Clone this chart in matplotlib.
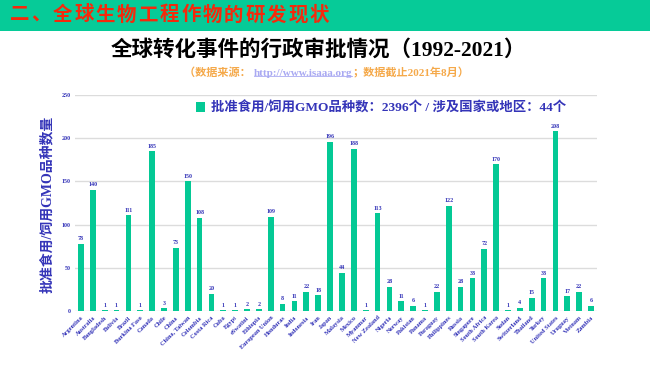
import matplotlib

matplotlib.use("Agg")
import matplotlib.pyplot as plt
from matplotlib.lines import Line2D
from matplotlib.patches import Rectangle

plt.rcParams["font.family"] = ["Liberation Serif", "Noto Sans CJK SC"]

COUNTRIES = [
    "Argentina", "Australia", "Bangladesh", "Bolivia", "Brazil", "Burkina Faso",
    "Canada", "Chile", "China", "China, Taiwan", "Colombia", "Costa Rica",
    "Cuba", "Egypt", "eSwatini", "Ethiopia", "European Union", "Honduras",
    "India", "Indonesia", "Iran", "Japan", "Malaysia", "Mexico", "Myanmar",
    "New Zealand", "Nigeria", "Norway", "Pakistan", "Panama", "Paraguay",
    "Philippines", "Russia", "Singapore", "South Africa", "South Korea",
    "Sudan", "Switzerland", "Thailand", "Turkey", "United States", "Uruguay",
    "Vietnam", "Zambia",
]
APPROVALS = [
    78, 140, 1, 1, 111, 1, 185, 3, 73, 150, 108, 20, 1, 1, 2, 2, 109, 8,
    11, 22, 18, 196, 44, 188, 1, 113, 28, 11, 6, 1, 22, 122, 28, 38, 72,
    170, 1, 4, 15, 38, 208, 17, 22, 6,
]
Y_TICKS = [0, 50, 100, 150, 200, 250]

HEADER = "二、全球生物工程作物的研发现状"
TITLE = "全球转化事件的行政审批情况（1992-2021）"
LEGEND_LABEL = "批准食用/饲用GMO品种数：2396个 / 涉及国家或地区：44个"
Y_LABEL = "批准食用/饲用GMO品种数量"
SOURCE_PARTS = [
    ("（数据来源： ", "#F5A94A", False),
    ("http://www.isaaa.org", "#A9A9F2", True),
    ("；数据截止2021年8月）", "#F5A94A", False),
]

BAR_COLOR = "#04C995"
BLUE = "#3434B8"

fig = plt.figure(figsize=(6.5, 3.65), dpi=100)

# green header band
fig.patches.append(
    Rectangle((0, 1 - 31 / 365), 1, 31 / 365, transform=fig.transFigure,
              facecolor="#06CB98", edgecolor="none")
)
# header chars spaced out a bit like the slide
hx = 10 / 650
for ch in HEADER:
    fig.text(hx, 1 - 15 / 365, ch, color="#F5290C", fontsize=14,
             fontweight="bold", family=["Noto Sans CJK SC"], va="center",
             ha="left")
    hx += 21.4 / 650

fig.text(0.49, 1 - 50 / 365, TITLE, color="black", fontsize=15.5,
         fontweight="bold", ha="center", va="center")

# source line in several colours
renderer = fig.canvas.get_renderer()
x = 184 / 650
y = 1 - 73 / 365
for text, color, underline in SOURCE_PARTS:
    t = fig.text(x, y, text, color=color, fontsize=8, fontweight="bold",
                 ha="left", va="center")
    bb = t.get_window_extent(renderer).transformed(fig.transFigure.inverted())
    if underline:
        fig.add_artist(Line2D([bb.x0, bb.x1], [bb.y0 + 0.005, bb.y0 + 0.005],
                              transform=fig.transFigure, color=color, lw=0.6))
    x = bb.x1

ax = fig.add_axes([75 / 650, 1 - 311 / 365, 522 / 650, 216 / 365])
positions = list(range(len(COUNTRIES)))
ax.bar(positions, APPROVALS, width=0.48, color=BAR_COLOR,
       label=LEGEND_LABEL, zorder=3)
for xpos, val in zip(positions, APPROVALS):
    ax.text(xpos, val + 3, str(val), ha="center", va="bottom", fontsize=4.3,
            fontweight="bold", color=BLUE)

ax.set_xlim(-0.5, len(COUNTRIES) - 0.5)
ax.set_ylim(0, 250)
ax.set_yticks(Y_TICKS)
ax.set_yticklabels([str(v) for v in Y_TICKS], fontsize=4.3, color=BLUE,
                   fontweight="bold")
ax.set_xticks(positions)
ax.set_xticklabels(COUNTRIES, rotation=45, ha="right", rotation_mode="anchor",
                   fontsize=4.6, fontweight="bold", color=BLUE)
ax.tick_params(length=0, pad=3)
ax.grid(axis="y", color="#DCDCDC", linewidth=1.0, zorder=0)
for side in ax.spines:
    ax.spines[side].set_visible(False)

fig.text(47 / 650, 1 - 204 / 365, Y_LABEL, rotation=90, color=BLUE,
         fontsize=10, fontweight="bold", ha="center", va="center")

ax.legend(loc="center", bbox_to_anchor=(0.586, 0.94), frameon=False,
          handlelength=0.7, handleheight=0.7, handletextpad=0.4,
          prop={"size": 9.6, "weight": "bold"}, labelcolor=BLUE)

fig.savefig("out.png", dpi=100)
